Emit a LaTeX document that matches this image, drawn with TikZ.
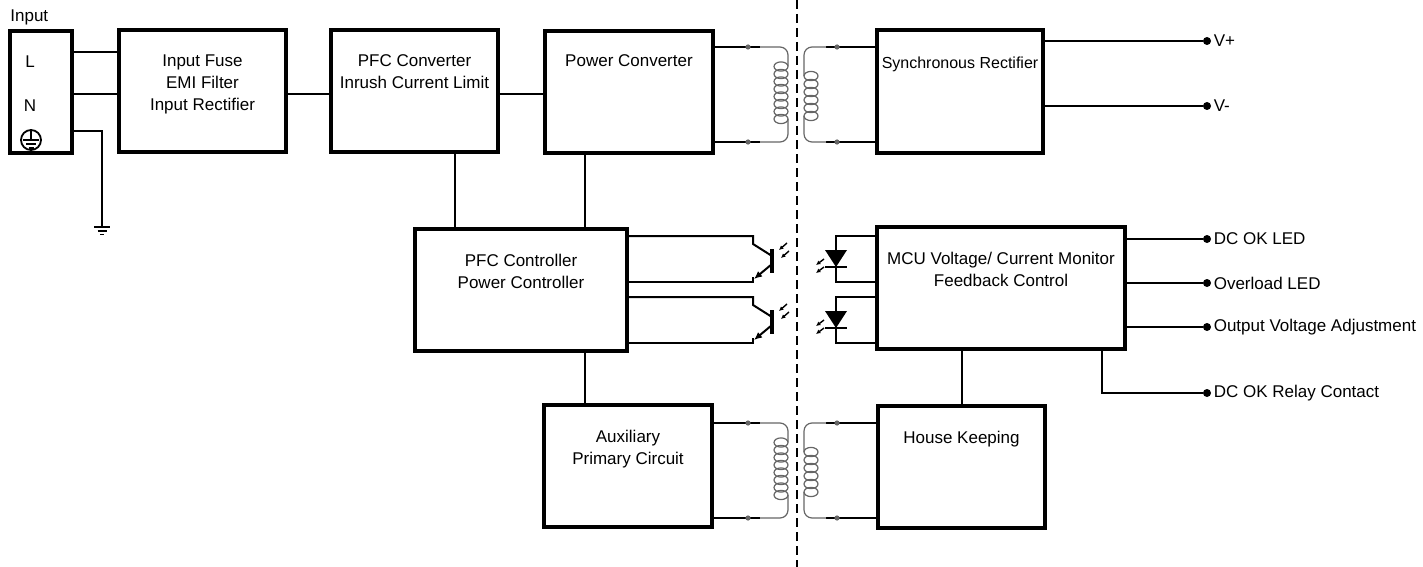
\documentclass[tikz,border=0pt]{standalone}
\usepackage{fontspec}
\setmainfont{Liberation Sans}
\usepackage{tikz}
\usetikzlibrary{positioning,arrows.meta}

\tikzset{
  blk/.style={draw, line width=2pt, inner sep=0pt, minimum height=61pt},
  txt/.style={align=center, inner sep=0pt, font=\fontsize{8.5}{11}\selectfont},
  wire/.style={line width=1pt},
  coil/.style={line width=0.6pt, draw=black!60},
  term/.style={circle, fill, inner sep=0pt, minimum size=4pt},
  ray/.style={line width=0.7pt, -{Latex[length=2.2pt,width=2.2pt]}}
}

\begin{document}
\begin{tikzpicture}[x=0.5pt, y=-0.5pt]
  \useasboundingbox (0,0) rectangle (1423,567);

  % blocks
  \node[blk, minimum width=31pt] at (41,92) (inp) {};
  \node[blk, minimum width=83.5pt] at (202.5,91) (fuse) {};
  \node[blk, minimum width=83.5pt] at (414.5,91) (pfcc) {};
  \node[blk, minimum width=84pt] at (629,92) (pwr) {};
  \node[blk, minimum width=83pt] at (960,91.5) (sync) {};
  \node[blk, minimum width=106pt] at (521,289.5) (ctrl) {};
  \node[blk, minimum width=124pt] at (1001,288) (mcu) {};
  \node[blk, minimum width=84pt] at (628,466) (aux) {};
  \node[blk, minimum width=83.5pt] at (961.5,466.5) (hk) {};

  \node[txt, below=13pt of fuse.north] (fusetxt) {Input Fuse\\EMI Filter\\Input Rectifier};
  \node[txt, below=13pt of pfcc.north] (pfcctxt) {PFC Converter\\Inrush Current Limit};
  \node[txt, below=12.5pt of pwr.north] (pwrtxt) {Power Converter};
  \node[txt, below=14pt of sync.north, font=\fontsize{8}{11}\selectfont] (synctxt) {Synchronous Rectifier};
  \node[txt, below=13.5pt of ctrl.north] (ctrltxt) {PFC Controller\\Power Controller};
  \node[txt, below=13.5pt of mcu.north] (mcutxt) {MCU Voltage/ Current Monitor\\Feedback Control};
  \node[txt, below=13.5pt of aux.north] (auxtxt) {Auxiliary\\Primary Circuit};
  \node[txt, below=13.5pt of hk.north] (hktxt) {House Keeping};

  % input terminal
  \node[txt, anchor=west] at (10,17) (inplbl) {Input};
  \node[txt] at (30,62) (lin) {L};
  \node[txt] at (30,106) (nin) {N};
  \node[circle, draw, line width=0.9pt, minimum size=10pt, inner sep=0pt] at (31,140) (pe) {};
  \draw[line width=0.9pt] (pe.north) -- (31,140);
  \draw[line width=0.9pt] (23,140) -- (39,140) (26,144) -- (36,144) (28.5,148) -- (33.5,148);

  \draw[wire] (inp.east |- 0,52) -- (fuse.west |- 0,52);
  \draw[wire] (inp.east |- 0,94) -- (fuse.west |- 0,94);
  \draw[wire] (inp.east |- 0,131) -- (102,131) -- (102,227) coordinate (gnd);
  \draw[line width=0.8pt] (94,227) -- (110,227) (97.5,231) -- (106.5,231) (100,234.5) -- (104,234.5);

  \draw[wire] (fuse.east |- 0,94) -- (pfcc.west |- 0,94);
  \draw[wire] (pfcc.east |- 0,94) -- (pwr.west |- 0,94);

  % isolation barrier
  \draw[line width=1.2pt, dash pattern=on 4.5pt off 2.5pt] (797,0) -- (797,567);

  % transformers
  \foreach \dy/\lft/\rgt in {0/pwr/sync, 376/aux/hk} {
    \begin{scope}[shift={(0,\dy)}]
      \draw[wire] (\lft.east |- 0,47) -- (760,47);
      \draw[wire] (\lft.east |- 0,142) -- (760,142);
      \draw[wire] (826,47) -- (\rgt.west |- 0,47);
      \draw[wire] (826,142) -- (\rgt.west |- 0,142);
      \draw[coil, rounded corners=4pt] (760,47) -- (788,47) -- (788,66);
      \draw[coil, rounded corners=4pt] (788,119) -- (788,142) -- (760,142);
      \foreach \k in {0,...,7}
        \draw[coil] (781,66.5+7.5*\k) ellipse [x radius=3.5pt, y radius=2.3pt];
      \draw[coil, rounded corners=4pt] (826,47) -- (804,47) -- (804,76);
      \draw[coil, rounded corners=4pt] (804,116) -- (804,142) -- (826,142);
      \foreach \k in {0,...,5}
        \draw[coil] (811,76+8*\k) ellipse [x radius=3.5pt, y radius=2.3pt];
      \fill[black!60] (748,47) circle (1.3pt) (748,142) circle (1.3pt)
                      (837,47) circle (1.3pt) (837,142) circle (1.3pt);
    \end{scope}
  }

  % optocouplers
  \foreach \dy in {0,61} {
    \begin{scope}[shift={(0,\dy)}]
      \draw[wire] (ctrl.east |- 0,236) -- (753,236) -- (753,244) -- (772,256);
      \draw[line width=1.6pt] (772,249) -- (772,273);
      \draw[wire, -{Latex[length=4pt,width=3.5pt]}] (772,264) -- (754,279);
      \draw[wire] (753,277) -- (753,282) -- (ctrl.east |- 0,282);
      \draw[ray] (787,243) -- (779,250);
      \draw[ray] (789,251) -- (781,258);
      \draw[wire] (mcu.west |- 0,236) -- (836,236) -- (836,250);
      \fill (825,250) -- (847,250) -- (836,267) -- cycle;
      \draw[wire] (825,267) -- (847,267);
      \draw[wire] (836,267) -- (836,282) -- (mcu.west |- 0,282);
      \draw[ray] (824,259) -- (816,265);
      \draw[ray] (824,267) -- (816,273);
    \end{scope}
  }

  % control links
  \coordinate (tapA) at (455,190);
  \coordinate (tapB) at (585,190);
  \coordinate (tapC) at (1102,370);
  \draw[wire] (pfcc.south -| tapA) -- (ctrl.north -| tapA);
  \draw[wire] (pwr.south -| tapB) -- (ctrl.north -| tapB);
  \draw[wire] (ctrl.south -| tapB) -- (aux.north -| tapB);
  \draw[wire] (mcu.south -| hk.north) -- (hk.north);

  % outputs
  \node[term, label={[txt, label distance=1pt]right:V+}] at (1207,41) (vpos) {};
  \node[term, label={[txt, label distance=1pt]right:V-}] at (1207,106) (vneg) {};
  \node[term, label={[txt, label distance=1pt]right:DC OK LED}] at (1207,239) (dcled) {};
  \node[term, label={[txt, label distance=1pt]right:Overload LED}] at (1207,283) (olled) {};
  \node[term, label={[txt, label distance=1pt]right:Output Voltage Adjustment}] at (1207,327) (vadj) {};
  \node[term, label={[txt, label distance=1pt]right:DC OK Relay Contact}] at (1207,393) (dcrel) {};

  \draw[wire] (sync.east |- vpos) -- (vpos);
  \draw[wire] (sync.east |- vneg) -- (vneg);
  \draw[wire] (mcu.east |- dcled) -- (dcled);
  \draw[wire] (mcu.east |- olled) -- (olled);
  \draw[wire] (mcu.east |- vadj) -- (vadj);
  \draw[wire] (mcu.south -| tapC) -- (tapC |- dcrel) -- (dcrel);
\end{tikzpicture}
\end{document}
